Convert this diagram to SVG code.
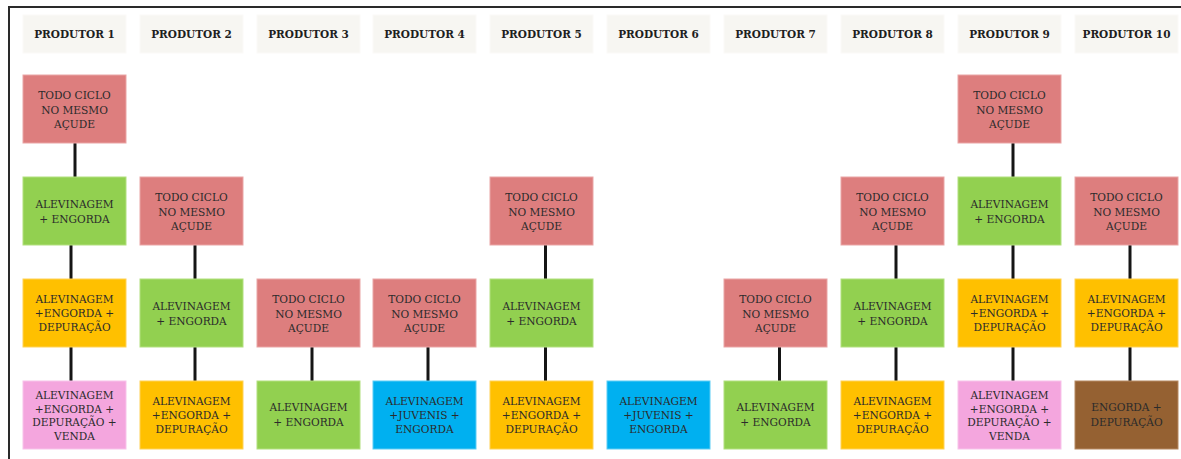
<svg xmlns="http://www.w3.org/2000/svg" width="1181" height="459" viewBox="0 0 1181 459">
<style>
text{font-family:"DejaVu Serif","Liberation Serif",serif;text-anchor:middle;fill:#2b2b2b;}
.hd rect{fill:#f7f6f2;stroke:#fbfaf8;stroke-width:1}
.hd text{font-weight:bold;font-size:10.5px;fill:#1e1e1e}
.n text{font-size:10.6px}
.red{fill:#dd7e7e;stroke:#eaa5a5}
.grn{fill:#92d050;stroke:#b2e07e}
.org{fill:#ffc000;stroke:#ffd257}
.pnk{fill:#f4a6de;stroke:#f8c3ea}
.blu{fill:#00b0f0;stroke:#5ccdf5}
.brn{fill:#956132;stroke:#b68a62}
.conn line{stroke:#151515;stroke-width:3}
.frame{stroke:#2a2a2a;stroke-width:2;fill:none}
</style>
<rect width="1181" height="459" fill="#ffffff"/>
<path class="frame" d="M9 459 V7 H1181"/>
<g id="headers" class="hd">
<g id="h1"><rect x="23" y="15" width="103" height="38"/><text x="74.5" y="38">PRODUTOR 1</text></g>
<g id="h2"><rect x="140" y="15" width="103" height="38"/><text x="191.5" y="38">PRODUTOR 2</text></g>
<g id="h3"><rect x="257" y="15" width="103" height="38"/><text x="308.5" y="38">PRODUTOR 3</text></g>
<g id="h4"><rect x="373" y="15" width="103" height="38"/><text x="424.5" y="38">PRODUTOR 4</text></g>
<g id="h5"><rect x="490" y="15" width="103" height="38"/><text x="541.5" y="38">PRODUTOR 5</text></g>
<g id="h6"><rect x="607" y="15" width="103" height="38"/><text x="658.5" y="38">PRODUTOR 6</text></g>
<g id="h7"><rect x="724" y="15" width="103" height="38"/><text x="775.5" y="38">PRODUTOR 7</text></g>
<g id="h8"><rect x="841" y="15" width="103" height="38"/><text x="892.5" y="38">PRODUTOR 8</text></g>
<g id="h9"><rect x="958" y="15" width="103" height="38"/><text x="1009.5" y="38">PRODUTOR 9</text></g>
<g id="h10"><rect x="1075" y="15" width="103" height="38"/><text x="1126.5" y="38">PRODUTOR 10</text></g>
</g>
<g id="connectors" class="conn">
<line x1="75" y1="143" x2="75" y2="177"/>
<line x1="71" y1="245" x2="71" y2="279"/>
<line x1="71" y1="347" x2="71" y2="381"/>
<line x1="195" y1="245" x2="195" y2="279"/>
<line x1="195" y1="347" x2="195" y2="381"/>
<line x1="312" y1="347" x2="312" y2="381"/>
<line x1="428" y1="347" x2="428" y2="381"/>
<line x1="545.5" y1="245" x2="545.5" y2="279"/>
<line x1="545.5" y1="347" x2="545.5" y2="381"/>
<line x1="779.5" y1="347" x2="779.5" y2="381"/>
<line x1="896" y1="245" x2="896" y2="279"/>
<line x1="896" y1="347" x2="896" y2="381"/>
<line x1="1013" y1="143" x2="1013" y2="177"/>
<line x1="1013" y1="245" x2="1013" y2="279"/>
<line x1="1013" y1="347" x2="1013" y2="381"/>
<line x1="1130" y1="245" x2="1130" y2="279"/>
<line x1="1130" y1="347" x2="1130" y2="381"/>
</g>
<g id="nodes" class="n">
<!-- column 1 -->
<g id="p1r1"><rect class="red" x="23" y="75" width="103" height="68"/><text x="74.5" y="99">TODO CICLO</text><text x="74.5" y="113.5">NO MESMO</text><text x="74.5" y="128">AÇUDE</text></g>
<g id="p1r2"><rect class="grn" x="23" y="177" width="103" height="68"/><text x="74.5" y="208">ALEVINAGEM</text><text x="74.5" y="223">+ ENGORDA</text></g>
<g id="p1r3"><rect class="org" x="23" y="279" width="103" height="68"/><text x="74.5" y="303">ALEVINAGEM</text><text x="74.5" y="317">+ENGORDA +</text><text x="74.5" y="331">DEPURAÇÃO</text></g>
<g id="p1r4"><rect class="pnk" x="23" y="381" width="103" height="68"/><text x="74.5" y="398.5">ALEVINAGEM</text><text x="74.5" y="412.5">+ENGORDA +</text><text x="74.5" y="426">DEPURAÇÃO +</text><text x="74.5" y="440">VENDA</text></g>
<!-- column 2 -->
<g id="p2r2"><rect class="red" x="140" y="177" width="103" height="68"/><text x="191.5" y="201">TODO CICLO</text><text x="191.5" y="215.5">NO MESMO</text><text x="191.5" y="230">AÇUDE</text></g>
<g id="p2r3"><rect class="grn" x="140" y="279" width="103" height="68"/><text x="191.5" y="310">ALEVINAGEM</text><text x="191.5" y="325">+ ENGORDA</text></g>
<g id="p2r4"><rect class="org" x="140" y="381" width="103" height="68"/><text x="191.5" y="405">ALEVINAGEM</text><text x="191.5" y="419">+ENGORDA +</text><text x="191.5" y="433">DEPURAÇÃO</text></g>
<!-- column 3 -->
<g id="p3r3"><rect class="red" x="257" y="279" width="103" height="68"/><text x="308.5" y="303">TODO CICLO</text><text x="308.5" y="317.5">NO MESMO</text><text x="308.5" y="332">AÇUDE</text></g>
<g id="p3r4"><rect class="grn" x="257" y="381" width="103" height="68"/><text x="308.5" y="411">ALEVINAGEM</text><text x="308.5" y="426">+ ENGORDA</text></g>
<!-- column 4 -->
<g id="p4r3"><rect class="red" x="373" y="279" width="103" height="68"/><text x="424.5" y="303">TODO CICLO</text><text x="424.5" y="317.5">NO MESMO</text><text x="424.5" y="332">AÇUDE</text></g>
<g id="p4r4"><rect class="blu" x="373" y="381" width="103" height="68"/><text x="424.5" y="405">ALEVINAGEM</text><text x="424.5" y="419">+JUVENIS +</text><text x="424.5" y="433">ENGORDA</text></g>
<!-- column 5 -->
<g id="p5r2"><rect class="red" x="490" y="177" width="103" height="68"/><text x="541.5" y="201">TODO CICLO</text><text x="541.5" y="215.5">NO MESMO</text><text x="541.5" y="230">AÇUDE</text></g>
<g id="p5r3"><rect class="grn" x="490" y="279" width="103" height="68"/><text x="541.5" y="310">ALEVINAGEM</text><text x="541.5" y="325">+ ENGORDA</text></g>
<g id="p5r4"><rect class="org" x="490" y="381" width="103" height="68"/><text x="541.5" y="405">ALEVINAGEM</text><text x="541.5" y="419">+ENGORDA +</text><text x="541.5" y="433">DEPURAÇÃO</text></g>
<!-- column 6 -->
<g id="p6r4"><rect class="blu" x="607" y="381" width="103" height="68"/><text x="658.5" y="405">ALEVINAGEM</text><text x="658.5" y="419">+JUVENIS +</text><text x="658.5" y="433">ENGORDA</text></g>
<!-- column 7 -->
<g id="p7r3"><rect class="red" x="724" y="279" width="103" height="68"/><text x="775.5" y="303">TODO CICLO</text><text x="775.5" y="317.5">NO MESMO</text><text x="775.5" y="332">AÇUDE</text></g>
<g id="p7r4"><rect class="grn" x="724" y="381" width="103" height="68"/><text x="775.5" y="411">ALEVINAGEM</text><text x="775.5" y="426">+ ENGORDA</text></g>
<!-- column 8 -->
<g id="p8r2"><rect class="red" x="841" y="177" width="103" height="68"/><text x="892.5" y="201">TODO CICLO</text><text x="892.5" y="215.5">NO MESMO</text><text x="892.5" y="230">AÇUDE</text></g>
<g id="p8r3"><rect class="grn" x="841" y="279" width="103" height="68"/><text x="892.5" y="310">ALEVINAGEM</text><text x="892.5" y="325">+ ENGORDA</text></g>
<g id="p8r4"><rect class="org" x="841" y="381" width="103" height="68"/><text x="892.5" y="405">ALEVINAGEM</text><text x="892.5" y="419">+ENGORDA +</text><text x="892.5" y="433">DEPURAÇÃO</text></g>
<!-- column 9 -->
<g id="p9r1"><rect class="red" x="958" y="75" width="103" height="68"/><text x="1009.5" y="99">TODO CICLO</text><text x="1009.5" y="113.5">NO MESMO</text><text x="1009.5" y="128">AÇUDE</text></g>
<g id="p9r2"><rect class="grn" x="958" y="177" width="103" height="68"/><text x="1009.5" y="208">ALEVINAGEM</text><text x="1009.5" y="223">+ ENGORDA</text></g>
<g id="p9r3"><rect class="org" x="958" y="279" width="103" height="68"/><text x="1009.5" y="303">ALEVINAGEM</text><text x="1009.5" y="317">+ENGORDA +</text><text x="1009.5" y="331">DEPURAÇÃO</text></g>
<g id="p9r4"><rect class="pnk" x="958" y="381" width="103" height="68"/><text x="1009.5" y="398.5">ALEVINAGEM</text><text x="1009.5" y="412.5">+ENGORDA +</text><text x="1009.5" y="426">DEPURAÇÃO +</text><text x="1009.5" y="440">VENDA</text></g>
<!-- column 10 -->
<g id="p10r2"><rect class="red" x="1075" y="177" width="103" height="68"/><text x="1126.5" y="201">TODO CICLO</text><text x="1126.5" y="215.5">NO MESMO</text><text x="1126.5" y="230">AÇUDE</text></g>
<g id="p10r3"><rect class="org" x="1075" y="279" width="103" height="68"/><text x="1126.5" y="303">ALEVINAGEM</text><text x="1126.5" y="317">+ENGORDA +</text><text x="1126.5" y="331">DEPURAÇÃO</text></g>
<g id="p10r4"><rect class="brn" x="1075" y="381" width="103" height="68"/><text x="1126.5" y="411">ENGORDA +</text><text x="1126.5" y="426">DEPURAÇÃO</text></g>
</g>
</svg>
